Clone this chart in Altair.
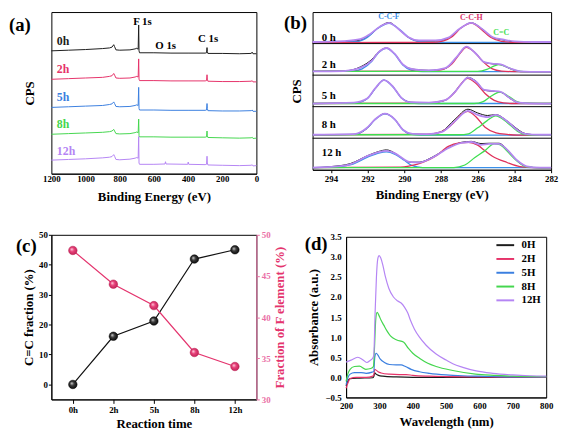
import altair as alt
import pandas as pd

FONT = '"Liberation Serif", "Times New Roman", Times, "DejaVu Serif", serif'

# ---------------- (a) XPS survey spectra ----------------
A_SAMPLES = ["0h", "2h", "5h", "8h", "12h"]
A_COLORS = ["#1c1c1c", "#e6336a", "#3b7fe0", "#44d64e", "#b585f4"]
A_BE = [1200, 1100, 1000, 900, 860, 845, 835, 830, 822, 800, 740, 710, 700, 692, 689, 687, 684,
        600, 500, 400, 300, 292, 289, 287, 284, 200, 100, 30, 25, 20, 0]
A_CPS_0H = [76, 76.4, 76.8, 77.4, 77.8, 78.3, 79.8, 78.6, 76.6, 76.4, 76.6, 77.2, 77.6, 77, 92, 76, 74.8,
            74.8, 74.6, 74.6, 74.6, 74.8, 78, 75.5, 74.4, 74.4, 74.2, 74.4, 75.2, 74.2, 74.2]
A_CPS_2H = [58.4, 58.8, 59.2, 59.6, 60.2, 60.6, 62, 61, 59.2, 59, 59.2, 59.8, 60.2, 59.8, 71, 58.5, 57.6,
            57.6, 57.4, 57.4, 57.4, 57.6, 61.2, 58.5, 57.2, 57, 57, 57.2, 57.6, 56.8, 56.8]
A_CPS_5H = [41, 41.4, 41.8, 42.2, 42.8, 43.2, 44.4, 43.4, 41.6, 41.4, 41.6, 42.2, 42.6, 42.2, 53.4, 40.4, 39.4,
            39.4, 39.2, 39.2, 39.2, 39.4, 43.4, 40.4, 39, 38.8, 38.8, 39, 39.4, 38.6, 38.6]
A_CPS_8H = [24.4, 24.8, 25.2, 25.6, 26, 26.4, 27.4, 26.4, 24.8, 24.6, 24.8, 25.4, 25.8, 25.4, 33.8, 23.6, 22.8,
            22.8, 22.6, 22.6, 22.6, 22.8, 26.4, 23.4, 22.4, 22.2, 22, 22.2, 22.6, 21.8, 22]
A_BE_12H = [1200, 1100, 1000, 900, 860, 845, 835, 830, 822, 800, 740, 710, 700, 692, 689, 687, 684,
            600, 535, 532, 529, 402, 399, 396, 300, 292, 289, 287, 284, 200, 100, 30, 25, 20, 0]
A_CPS_12H = [8.4, 8.8, 9.2, 9.8, 10.2, 10.6, 11.8, 10.8, 8.8, 8.6, 9, 9.6, 10, 9.6, 23, 6.6, 5.8,
             5.8, 6, 7.4, 6, 5.8, 7.2, 5.8, 5.6, 5.8, 10.8, 6.6, 5.4, 5.2, 5, 5.2, 5.6, 4.8, 5]
A_LABEL_BE = [1168, 1168, 1168, 1168, 1168]
A_LABEL_CPS = [82, 65, 47.4, 30.6, 13.8]
A_PEAKS = ["F 1s", "O 1s", "C 1s"]
A_PEAK_BE = [667, 531, 283]
A_PEAK_CPS = [93.6, 79.2, 83.4]

# ---------------- (b) C 1s high-resolution spectra ----------------
B_SAMPLES = ["0 h", "2 h", "5 h", "8 h", "12 h"]
B_LABEL_BE = [294.5, 294.5, 294.5, 294.5, 294.5]
B_LABEL_Y = [4.17, 3.33, 2.34, 1.41, 0.54]
B_COMP_NAMES = ["C-C-F", "C-C-H", "C=C"]
B_COMP_BE = [290.84, 286.35, 284.72]
B_COMP_Y = [4.83, 4.81, 4.34]
B_COMP_COLORS = ["#3a8fe8", "#d8306a", "#3ede50"]

B0_ENV_BE = [295.0, 293.3, 292.4, 291.9, 291.3, 290.83, 290.35, 289.8, 289.2, 288.3, 287.6, 286.97, 286.35, 285.73, 285.2, 284.57, 284.0, 283.0, 282.0]
B0_ENV = [0.05, 0.08, 0.14, 0.29, 0.55, 0.66, 0.48, 0.21, 0.10, 0.10, 0.19, 0.48, 0.66, 0.45, 0.21, 0.125, 0.07, 0.05, 0.05]
B0_RAW = [0.04, 0.06, 0.11, 0.26, 0.55, 0.67, 0.48, 0.20, 0.08, 0.08, 0.17, 0.47, 0.66, 0.45, 0.20, 0.11, 0.05, 0.03, 0.03]
B0_CCF_BE = [295.0, 292.6, 292.0, 291.5, 290.83, 290.2, 289.7, 289.2, 288.5, 282.0]
B0_CCF = [0.04, 0.06, 0.20, 0.46, 0.64, 0.42, 0.17, 0.06, 0.04, 0.04]
B0_CCH_BE = [295.0, 288.5, 287.9, 287.4, 286.9, 286.35, 285.8, 285.3, 284.7, 284.0, 282.0]
B0_CCH = [0.03, 0.04, 0.08, 0.22, 0.50, 0.65, 0.45, 0.20, 0.07, 0.04, 0.03]

B2_ENV_BE = [295.0, 293.3, 292.4, 291.77, 291.41, 290.97, 290.52, 290.08, 289.55, 288.66, 287.77, 287.15, 286.62, 286.08, 285.64, 285.1, 284.75, 284.22, 283.68, 282.6, 282.0]
B2_ENV = [0.12, 0.13, 0.23, 0.46, 0.72, 0.86, 0.67, 0.34, 0.19, 0.15, 0.22, 0.57, 0.90, 0.67, 0.41, 0.36, 0.34, 0.21, 0.12, 0.10, 0.10]
B2_RAW = [0.12, 0.13, 0.26, 0.50, 0.73, 0.86, 0.67, 0.34, 0.19, 0.15, 0.21, 0.56, 0.89, 0.67, 0.41, 0.35, 0.33, 0.20, 0.11, 0.10, 0.10]
B2_CCF_BE = [295.0, 292.8, 292.3, 291.77, 291.41, 290.97, 290.52, 290.08, 289.6, 289.0, 282.0]
B2_CCF = [0.12, 0.13, 0.20, 0.44, 0.71, 0.85, 0.66, 0.32, 0.15, 0.11, 0.11]
B2_CCH_BE = [295.0, 288.8, 288.0, 287.4, 286.95, 286.62, 286.2, 285.7, 285.2, 284.7, 284.0, 282.0]
B2_CCH = [0.12, 0.13, 0.17, 0.36, 0.70, 0.88, 0.74, 0.42, 0.20, 0.13, 0.11, 0.10]
B2_CC_BE = [295.0, 286.0, 285.5, 285.1, 284.84, 284.5, 284.0, 283.5, 282.0]
B2_CC = [0.12, 0.12, 0.18, 0.29, 0.33, 0.28, 0.16, 0.11, 0.10]

B5_ENV_BE = [295.0, 292.74, 292.03, 291.59, 291.11, 290.61, 290.17, 289.64, 288.66, 287.77, 287.24, 286.85, 286.56, 286.08, 285.64, 285.2, 284.75, 284.22, 283.77, 282.6, 282.0]
B5_ENV = [0.10, 0.13, 0.26, 0.58, 0.84, 0.63, 0.29, 0.14, 0.13, 0.21, 0.47, 0.75, 0.92, 0.79, 0.53, 0.50, 0.47, 0.26, 0.13, 0.10, 0.10]
B5_RAW = [0.10, 0.12, 0.25, 0.57, 0.84, 0.63, 0.29, 0.14, 0.12, 0.20, 0.48, 0.76, 0.93, 0.80, 0.52, 0.49, 0.46, 0.25, 0.12, 0.10, 0.10]
B5_CCF_BE = [295.0, 292.6, 292.03, 291.59, 291.11, 290.61, 290.17, 289.7, 289.2, 282.0]
B5_CCF = [0.10, 0.12, 0.25, 0.57, 0.84, 0.62, 0.28, 0.13, 0.10, 0.10]
B5_CCH_BE = [295.0, 288.8, 287.9, 287.3, 286.9, 286.56, 286.1, 285.6, 285.1, 284.6, 284.0, 282.0]
B5_CCH = [0.10, 0.11, 0.18, 0.42, 0.73, 0.90, 0.74, 0.42, 0.20, 0.12, 0.10, 0.10]
B5_CC_BE = [295.0, 286.2, 285.7, 285.3, 284.79, 284.3, 283.9, 283.5, 282.0]
B5_CC = [0.10, 0.10, 0.16, 0.32, 0.46, 0.32, 0.17, 0.11, 0.10]

B8_ENV_BE = [295.0, 292.74, 292.03, 291.59, 291.06, 290.52, 290.08, 289.55, 288.66, 287.95, 287.24, 286.53, 286.0, 285.46, 285.02, 284.4, 283.86, 283.42, 282.6, 282.0]
B8_ENV = [0.11, 0.13, 0.33, 0.60, 0.78, 0.60, 0.27, 0.14, 0.13, 0.20, 0.54, 0.87, 0.74, 0.67, 0.74, 0.54, 0.27, 0.14, 0.11, 0.11]
B8_RAW = [0.10, 0.12, 0.31, 0.59, 0.78, 0.60, 0.27, 0.13, 0.12, 0.22, 0.60, 0.92, 0.80, 0.72, 0.75, 0.55, 0.30, 0.15, 0.10, 0.10]
B8_CCF_BE = [295.0, 292.7, 292.03, 291.59, 291.06, 290.52, 290.08, 289.6, 289.1, 282.0]
B8_CCF = [0.11, 0.12, 0.32, 0.59, 0.77, 0.59, 0.26, 0.12, 0.10, 0.10]
B8_CCH_BE = [295.0, 288.8, 288.0, 287.3, 286.9, 286.55, 286.1, 285.6, 285.0, 284.4, 283.8, 282.0]
B8_CCH = [0.11, 0.12, 0.20, 0.50, 0.76, 0.85, 0.68, 0.35, 0.17, 0.12, 0.10, 0.10]
B8_CC_BE = [295.0, 287.0, 286.5, 286.0, 285.5, 285.02, 284.4, 283.9, 283.5, 283.0, 282.0]
B8_CC = [0.11, 0.11, 0.14, 0.33, 0.55, 0.71, 0.50, 0.25, 0.13, 0.10, 0.10]

B12_ENV_BE = [295.0, 293.99, 292.92, 292.03, 291.4, 290.97, 290.5, 290.26, 289.72, 289.19, 288.48, 287.59, 286.88, 286.35, 285.82, 285.37, 284.84, 284.4, 283.86, 283.33, 282.6, 282.0]
B12_ENV = [0.07, 0.09, 0.18, 0.43, 0.56, 0.60, 0.52, 0.43, 0.25, 0.23, 0.38, 0.69, 0.85, 0.88, 0.79, 0.82, 0.82, 0.64, 0.30, 0.11, 0.07, 0.07]
B12_RAW = [0.06, 0.10, 0.20, 0.44, 0.58, 0.63, 0.52, 0.42, 0.24, 0.24, 0.40, 0.70, 0.87, 0.90, 0.83, 0.84, 0.84, 0.64, 0.28, 0.10, 0.06, 0.06]
B12_CCF_BE = [295.0, 293.9, 292.9, 292.0, 291.4, 290.97, 290.5, 290.0, 289.6, 289.0, 282.0]
B12_CCF = [0.07, 0.08, 0.16, 0.40, 0.53, 0.57, 0.49, 0.30, 0.14, 0.07, 0.07]
B12_CCH_BE = [295.0, 290.2, 289.7, 289.0, 288.3, 287.6, 287.0, 286.5, 286.0, 285.6, 285.2, 284.4, 283.7, 283.0, 282.0]
B12_CCH = [0.07, 0.08, 0.12, 0.23, 0.43, 0.74, 0.85, 0.87, 0.78, 0.60, 0.43, 0.23, 0.10, 0.07, 0.07]
B12_CC_BE = [295.0, 287.3, 286.7, 286.17, 285.64, 285.1, 284.8, 284.4, 283.86, 283.33, 282.8, 282.0]
B12_CC = [0.07, 0.07, 0.15, 0.38, 0.59, 0.82, 0.80, 0.59, 0.28, 0.09, 0.07, 0.07]

# ---------------- (c) fractions vs reaction time ----------------
C_TIME = ["0h", "2h", "5h", "8h", "12h"]
C_CC_FRACTION = [0.0, 16.1, 21.2, 41.9, 45.0]
C_F_FRACTION = [48.1, 44.0, 41.4, 35.7, 34.0]

# ---------------- (d) UV-vis absorbance ----------------
D_SAMPLES = ["0H", "2H", "5H", "8H", "12H"]
D_COLORS = ["#1c1c1c", "#e6336a", "#3b7fe0", "#44d64e", "#b585f4"]
D_WL_0H = [200, 205, 212, 240, 280, 283, 286, 290, 297, 310, 350, 400, 800]
D_AB_0H = [-0.22, -0.10, -0.03, -0.02, -0.01, 0.02, 0.11, 0.08, 0.05, 0.03, 0.01, 0.0, 0.0]
D_WL_2H = [200, 205, 212, 230, 260, 280, 283, 286, 290, 296, 305, 330, 360, 380, 400, 450, 500, 600, 800]
D_AB_2H = [-0.27, -0.15, -0.03, 0.0, 0.0, 0.03, 0.06, 0.20, 0.18, 0.14, 0.11, 0.08, 0.07, 0.07, 0.05, 0.03, 0.02, 0.01, 0.0]
D_WL_5H = [200, 205, 212, 225, 245, 260, 278, 283, 286, 290, 295, 302, 315, 330, 350, 365, 378, 395, 420, 450, 500, 550, 600, 700, 800]
D_AB_5H = [-0.18, -0.02, 0.08, 0.12, 0.12, 0.10, 0.13, 0.15, 0.50, 0.60, 0.56, 0.46, 0.37, 0.32, 0.31, 0.31, 0.27, 0.20, 0.14, 0.10, 0.06, 0.04, 0.03, 0.01, 0.01]
D_WL_8H = [200, 205, 212, 225, 240, 259, 274, 282, 285, 289, 293, 298, 305, 313, 323, 333, 352, 372, 387, 400, 421, 445, 470, 520, 588, 650, 700, 800]
D_AB_8H = [-0.10, 0.08, 0.20, 0.27, 0.28, 0.20, 0.22, 0.27, 0.70, 1.45, 1.62, 1.55, 1.42, 1.30, 1.15, 1.03, 0.93, 0.88, 0.72, 0.60, 0.47, 0.35, 0.27, 0.17, 0.08, 0.05, 0.03, 0.02]
D_WL_12H = [200, 215, 235, 250, 262, 272, 280, 283, 287, 291, 295, 299, 304, 310, 318, 328, 342, 355, 365, 375, 385, 393, 405, 420, 440, 470, 500, 520, 550, 590, 640, 700, 750, 800]
D_AB_12H = [0.38, 0.43, 0.50, 0.44, 0.37, 0.42, 0.48, 0.55, 1.60, 2.50, 2.95, 3.03, 2.97, 2.80, 2.50, 2.22, 2.00, 1.90, 1.85, 1.75, 1.60, 1.42, 1.20, 1.00, 0.80, 0.58, 0.43, 0.34, 0.25, 0.16, 0.10, 0.06, 0.04, 0.03]

BLACK = "#111111"
PINK = "#e4336d"
PINK_AXIS = "#ea6fa6"


def tag(label, dx, dy):
    return alt.Chart(pd.DataFrame({"tag": [label]})).mark_text(
        align="left", baseline="middle", fontSize=19, fontWeight="bold", font=FONT, color="black"
    ).encode(x=alt.value(dx), y=alt.value(dy), text="tag:N")


# ======== panel (a) ========
dfa = pd.concat([
    pd.DataFrame({"be": A_BE, "cps": A_CPS_0H, "sa": "0h"}),
    pd.DataFrame({"be": A_BE, "cps": A_CPS_2H, "sa": "2h"}),
    pd.DataFrame({"be": A_BE, "cps": A_CPS_5H, "sa": "5h"}),
    pd.DataFrame({"be": A_BE, "cps": A_CPS_8H, "sa": "8h"}),
    pd.DataFrame({"be": A_BE_12H, "cps": A_CPS_12H, "sa": "12h"}),
], ignore_index=True)
dfa_lab = pd.DataFrame({"be": A_LABEL_BE, "cps": A_LABEL_CPS, "sa": A_SAMPLES})
dfa_peak = pd.DataFrame({"be": A_PEAK_BE, "cps": A_PEAK_CPS, "p": A_PEAKS})

xa = alt.X("be:Q", scale=alt.Scale(domain=[0, 1200], reverse=True, nice=False),
           axis=alt.Axis(values=[0, 200, 400, 600, 800, 1000, 1200], format="d", title="Binding Energy (eV)",
                         ticks=False, labelPadding=1, titlePadding=7))
ya = alt.Y("cps:Q", scale=alt.Scale(domain=[0, 100], nice=False),
           axis=alt.Axis(labels=False, ticks=False, domain=False, title="CPS", titlePadding=15))
ca = alt.Color("sa:N", scale=alt.Scale(domain=A_SAMPLES, range=A_COLORS), legend=None)

a_lines = alt.Chart(dfa).mark_line(strokeWidth=1).encode(x=xa, y=ya, color=ca)
a_labels = alt.Chart(dfa_lab).mark_text(align="left", baseline="middle", fontSize=12,
                                        fontWeight="bold", font=FONT).encode(x=xa, y=ya, text="sa:N", color=ca)
a_peaks = alt.Chart(dfa_peak).mark_text(baseline="middle", fontSize=11, fontWeight="bold",
                                        font=FONT, color="black").encode(x=xa, y=ya, text="p:N")
chart_a = alt.layer(a_lines, a_labels, a_peaks, tag("(a)", -43, 13)).properties(width=208, height=164)

# ======== panel (b) ========
B_SETS = [
    (4, "raw", B0_ENV_BE, B0_RAW), (4, "ccf", B0_CCF_BE, B0_CCF), (4, "cch", B0_CCH_BE, B0_CCH),
    (4, "env", B0_ENV_BE, B0_ENV),
    (3, "raw", B2_ENV_BE, B2_RAW), (3, "ccf", B2_CCF_BE, B2_CCF), (3, "cch", B2_CCH_BE, B2_CCH),
    (3, "cc", B2_CC_BE, B2_CC), (3, "env", B2_ENV_BE, B2_ENV),
    (2, "raw", B5_ENV_BE, B5_RAW), (2, "ccf", B5_CCF_BE, B5_CCF), (2, "cch", B5_CCH_BE, B5_CCH),
    (2, "cc", B5_CC_BE, B5_CC), (2, "env", B5_ENV_BE, B5_ENV),
    (1, "raw", B8_ENV_BE, B8_RAW), (1, "ccf", B8_CCF_BE, B8_CCF), (1, "cch", B8_CCH_BE, B8_CCH),
    (1, "cc", B8_CC_BE, B8_CC), (1, "env", B8_ENV_BE, B8_ENV),
    (0, "raw", B12_ENV_BE, B12_RAW), (0, "ccf", B12_CCF_BE, B12_CCF), (0, "cch", B12_CCH_BE, B12_CCH),
    (0, "cc", B12_CC_BE, B12_CC), (0, "env", B12_ENV_BE, B12_ENV),
]
dfb = pd.concat([pd.DataFrame({"be": be, "v": v, "row": r, "comp": c}) for r, c, be, v in B_SETS],
                ignore_index=True)

xb = alt.X("be:Q", scale=alt.Scale(domain=[282, 295], reverse=True, nice=False),
           axis=alt.Axis(values=[294, 292, 290, 288, 286, 284, 282], title="Binding Energy (eV)",
                         tickSize=3, labelPadding=2, titlePadding=5))
yb = alt.Y("yy:Q", scale=alt.Scale(domain=[0, 5], nice=False),
           axis=alt.Axis(labels=False, ticks=False, domain=False, title="CPS", titlePadding=9))

COMP_STYLE = [("raw", BLACK, 1.0), ("ccf", "#3a8fe8", 1.3), ("cch", "#e0305a", 1.3),
              ("cc", "#3ede50", 1.3), ("env", "#b487f0", 1.8)]
b_layers = []
for comp, col, w in COMP_STYLE:
    b_layers.append(
        alt.Chart(dfb[dfb["comp"] == comp]).transform_calculate(yy="datum.v + datum.row")
        .mark_line(color=col, strokeWidth=w, interpolate="monotone")
        .encode(x=xb, y=yb, detail="row:N")
    )
b_sep = alt.Chart(pd.DataFrame({"yy": [1, 2, 3, 4]})).mark_rule(color="black", strokeWidth=1).encode(y=yb)
b_slab = alt.Chart(pd.DataFrame({"be": B_LABEL_BE, "yy": B_LABEL_Y, "tb": B_SAMPLES})).mark_text(
    align="left", baseline="middle", fontSize=11, fontWeight="bold", font=FONT, color="black"
).encode(x=xb, y=yb, text="tb:N")
b_clab = alt.Chart(pd.DataFrame({"be": B_COMP_BE, "yy": B_COMP_Y, "cb": B_COMP_NAMES})).mark_text(
    baseline="middle", fontSize=8, fontWeight="bold", font=FONT
).encode(x=xb, y=yb, text="cb:N",
         color=alt.Color("cb:N", scale=alt.Scale(domain=B_COMP_NAMES, range=B_COMP_COLORS), legend=None))
chart_b = alt.layer(*b_layers, b_sep, b_slab, b_clab, tag("(b)", -29, 11)).properties(width=242, height=160)

# ======== panel (c) ========
dfc = pd.DataFrame({"t": C_TIME, "cc": C_CC_FRACTION, "f": C_F_FRACTION})
xc = alt.X("t:N", sort=C_TIME, scale=alt.Scale(type="point", padding=0.53),
           axis=alt.Axis(title="Reaction time", labelAngle=0, tickSize=4, labelPadding=2, titlePadding=4))
black_ball = {"gradient": "radial", "x1": 0.35, "y1": 0.35, "r1": 0.0, "x2": 0.5, "y2": 0.5, "r2": 0.6,
              "stops": [{"offset": 0, "color": "#d8d8d8"}, {"offset": 0.4, "color": "#3a3a3a"},
                        {"offset": 1, "color": "#000000"}]}
pink_ball = {"gradient": "radial", "x1": 0.35, "y1": 0.35, "r1": 0.0, "x2": 0.5, "y2": 0.5, "r2": 0.6,
             "stops": [{"offset": 0, "color": "#ffd6e4"}, {"offset": 0.4, "color": "#e8427a"},
                       {"offset": 1, "color": "#b81c50"}]}
c_black = alt.Chart(dfc).mark_line(
    color=BLACK, strokeWidth=1.2,
    point=alt.OverlayMarkDef(filled=True, size=75, fill=black_ball, stroke="#000000", strokeWidth=0.5)
).encode(
    x=xc,
    y=alt.Y("cc:Q", scale=alt.Scale(domain=[-5, 50], nice=False, zero=False),
            axis=alt.Axis(values=[0, 10, 20, 30, 40, 50], title="C=C fraction (%)",
                          tickSize=3, labelPadding=1, titlePadding=3))
)
c_pink = alt.Chart(dfc).mark_line(
    color=PINK, strokeWidth=1.2,
    point=alt.OverlayMarkDef(filled=True, size=75, fill=pink_ball, stroke="#b81c50", strokeWidth=0.5)
).encode(
    x=xc,
    y=alt.Y("f:Q", scale=alt.Scale(domain=[30, 50], nice=False, zero=False),
            axis=alt.Axis(orient="right", values=[30, 35, 40, 45, 50], title="Fraction of F element (%)",
                          titleAngle=270, titleBaseline="top", tickSize=3, labelPadding=2, titlePadding=4,
                          domainColor=PINK_AXIS, tickColor=PINK_AXIS, labelColor=PINK_AXIS, titleColor=PINK))
)
chart_c = alt.layer(c_black, c_pink, tag("(c)", -36, 11)).resolve_scale(y="independent").properties(
    width=208, height=167)

# ======== panel (d) ========
dfd = pd.concat([
    pd.DataFrame({"wl": D_WL_0H, "ab": D_AB_0H, "sd": "0H"}),
    pd.DataFrame({"wl": D_WL_2H, "ab": D_AB_2H, "sd": "2H"}),
    pd.DataFrame({"wl": D_WL_5H, "ab": D_AB_5H, "sd": "5H"}),
    pd.DataFrame({"wl": D_WL_8H, "ab": D_AB_8H, "sd": "8H"}),
    pd.DataFrame({"wl": D_WL_12H, "ab": D_AB_12H, "sd": "12H"}),
], ignore_index=True)
d_lines = alt.Chart(dfd).mark_line(strokeWidth=1.2, interpolate="monotone").encode(
    x=alt.X("wl:Q", scale=alt.Scale(domain=[200, 800], nice=False),
            axis=alt.Axis(values=[200, 300, 400, 500, 600, 700, 800], title="Wavelength (nm)",
                          ticks=False, labelPadding=4, titlePadding=5)),
    y=alt.Y("ab:Q", scale=alt.Scale(domain=[-0.5, 3.5], nice=False, zero=False),
            axis=alt.Axis(values=[-0.5, 0, 0.5, 1, 1.5, 2, 2.5, 3, 3.5], format=".1f",
                          title="Absorbance (a.u.)", ticks=False, labelPadding=5, titlePadding=5)),
    color=alt.Color("sd:N", sort=D_SAMPLES, scale=alt.Scale(domain=D_SAMPLES, range=D_COLORS),
                    legend=alt.Legend(orient="none", legendX=156, legendY=3, title=None,
                                      symbolType="M-2,0L2,0", symbolSize=81, symbolStrokeWidth=2,
                                      labelFontSize=11, labelFont=FONT, labelFontWeight="bold",
                                      labelOffset=11, rowPadding=2, padding=0)),
)
chart_d = alt.layer(d_lines, tag("(d)", -42, 7)).properties(width=203, height=163)

row1 = alt.hconcat(chart_a, chart_b, spacing=57, bounds="flush").resolve_scale(color="independent")
row2 = alt.hconcat(chart_c, chart_d, spacing=91, bounds="flush", center=True).resolve_scale(color="independent")

chart = alt.vconcat(row1, row2, spacing=26).resolve_scale(color="independent").properties(
    padding={"left": 0, "top": 0, "right": 0, "bottom": 0}
).configure(font=FONT, background="white").configure_view(
    stroke="black", strokeWidth=1
).configure_axis(
    labelFont=FONT, titleFont=FONT, labelFontSize=9, titleFontSize=13,
    labelFontWeight="bold", titleFontWeight="bold", labelColor="black", titleColor="black",
    domainColor="black", tickColor="black", grid=False, labelFlush=False, labelOverlap=False
).configure_legend(labelFont=FONT, labelFontWeight="bold")

chart.save("out.html", embed_options={"renderer": "svg", "actions": False})
